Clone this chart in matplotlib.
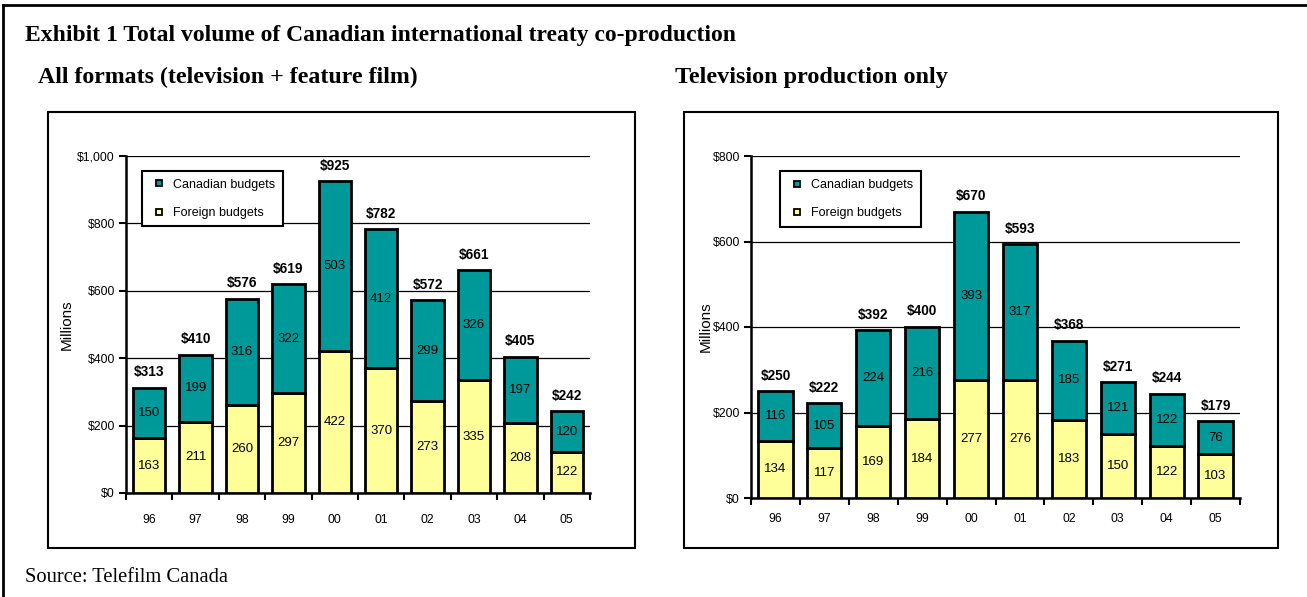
import matplotlib
matplotlib.use("Agg")
import matplotlib.pyplot as plt
from matplotlib.patches import Rectangle
from matplotlib.lines import Line2D
import numpy as np

years = ["96", "97", "98", "99", "00", "01", "02", "03", "04", "05"]
all_foreign = [163, 211, 260, 297, 422, 370, 273, 335, 208, 122]
all_canadian = [150, 199, 316, 322, 503, 412, 299, 326, 197, 120]
all_totals = [313, 410, 576, 619, 925, 782, 572, 661, 405, 242]
tv_foreign = [134, 117, 169, 184, 277, 276, 183, 150, 122, 103]
tv_canadian = [116, 105, 224, 216, 393, 317, 185, 121, 122, 76]
tv_totals = [250, 222, 392, 400, 670, 593, 368, 271, 244, 179]

TEAL = "#009999"
YELLOW = "#FFFF99"
SANS = "Liberation Sans"
SERIF = "Liberation Serif"

fig = plt.figure(figsize=(13.07, 5.97), dpi=100)
W, H = 1307, 597

def px(x0, y0, x1, y1):
    return [x0 / W, 1 - y1 / H, (x1 - x0) / W, (y1 - y0) / H]

# outer border (top and left only visible)
fig.lines.append(Line2D([3 / W, 3 / W], [0, 1 - 5 / H], transform=fig.transFigure, color="black", lw=2))
fig.lines.append(Line2D([3 / W, 1], [1 - 5 / H, 1 - 5 / H], transform=fig.transFigure, color="black", lw=2))
# panel frames
for (x0, y0, x1, y1) in [(48, 112, 635, 548), (684, 112, 1278, 548)]:
    fig.patches.append(Rectangle((x0 / W, 1 - y1 / H), (x1 - x0) / W, (y1 - y0) / H,
                                 transform=fig.transFigure, fill=False, lw=1.5, ec="black"))

fig.text(25 / W, 1 - 35 / H, "Exhibit 1 Total volume of Canadian international treaty co-production",
         family=SERIF, weight="bold", fontsize=17, va="center", ha="left")
fig.text(38 / W, 1 - 77 / H, "All formats (television + feature film)",
         family=SERIF, weight="bold", fontsize=17.2, va="center", ha="left")
fig.text(675 / W, 1 - 77 / H, "Television production only",
         family=SERIF, weight="bold", fontsize=17.4, va="center", ha="left")
fig.text(25 / W, 1 - 578 / H, "Source: Telefilm Canada",
         family=SERIF, fontsize=14.8, va="center", ha="left")


def draw(ax, foreign, canadian, totals, ymax, step, legend_box, ylab_x, xpad):
    x = np.arange(len(years))
    w = 0.7
    ax.bar(x, foreign, w, color=YELLOW, edgecolor="black", lw=2, zorder=3)
    ax.bar(x, canadian, w, bottom=foreign, color=TEAL, edgecolor="black", lw=2, zorder=3)
    for i in range(len(years)):
        ax.text(x[i], foreign[i] / 2, str(foreign[i]), ha="center", va="center",
                family=SANS, fontsize=9.5, zorder=4)
        ax.text(x[i], foreign[i] + canadian[i] / 2, str(canadian[i]), ha="center", va="center",
                family=SANS, fontsize=9.5, zorder=4)
        ax.text(x[i], totals[i] + ymax * 0.025, "$%d" % totals[i], ha="center", va="bottom",
                family=SANS, fontsize=9.8, weight="bold", zorder=4)
    ax.set_xlim(-0.5, len(years) - 0.5)
    ax.set_ylim(0, ymax)
    ticks = np.arange(0, ymax + 1, step)
    ax.set_yticks(ticks)
    ax.set_yticklabels(["${:,}".format(int(t)) for t in ticks], family=SANS, fontsize=8.8)
    ax.set_xticks(np.arange(-0.5, len(years) + 0.5, 1), minor=False)
    ax.set_xticklabels([])
    ax.set_xticks(x, minor=True)
    ax.set_xticklabels(years, minor=True, family=SANS, fontsize=8.8)
    ax.tick_params(axis="x", which="minor", length=0, pad=xpad)
    ax.tick_params(axis="x", which="major", length=5, width=1.5, direction="out")
    ax.tick_params(axis="y", length=5, width=1.5, direction="out", pad=3)
    ax.yaxis.grid(True, color="black", lw=0.9, zorder=0)
    ax.set_axisbelow(True)
    for s in ["top", "right"]:
        ax.spines[s].set_visible(False)
    ax.spines["left"].set_linewidth(1.8)
    ax.spines["bottom"].set_linewidth(1.8)
    ax.set_ylabel("Millions", family=SANS, fontsize=11)
    ax.yaxis.set_label_coords(ylab_x, 0.5)
    handles = [Line2D([], [], ls="", marker="s", ms=5, mfc=TEAL, mec="black", mew=1.3),
               Line2D([], [], ls="", marker="s", ms=5, mfc=YELLOW, mec="black", mew=1.3)]
    leg = ax.legend(handles, ["Canadian budgets", "Foreign budgets"], loc="upper left",
                    bbox_to_anchor=legend_box, prop={"family": SANS, "size": 9},
                    fancybox=False, edgecolor="black", framealpha=1, handlelength=1.6,
                    handletextpad=0.3, labelspacing=1.3, borderpad=0.6, borderaxespad=0)
    leg.get_frame().set_linewidth(1.5)
    leg.set_zorder(5)


ax1 = fig.add_axes(px(126, 156, 590, 493))
draw(ax1, all_foreign, all_canadian, all_totals, 1000, 200, (0.034, 0.955), -0.112, 15)
ax2 = fig.add_axes(px(751, 156, 1240, 498))
draw(ax2, tv_foreign, tv_canadian, tv_totals, 800, 200, (0.059, 0.955), -0.078, 11)

fig.savefig("out.png", dpi=100)
